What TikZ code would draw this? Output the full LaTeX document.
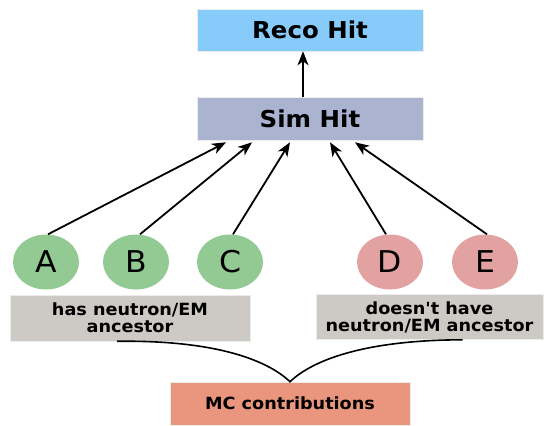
\documentclass[tikz,border=0pt]{standalone}
\usepackage{fontspec}
\setmainfont{DejaVu Sans}[FakeStretch=1.05, Ligatures=TeXOff]
\usetikzlibrary{shapes.geometric,arrows.meta}
\definecolor{recoblue}{HTML}{87CBFA}
\definecolor{simblue}{HTML}{AAB4D0}
\definecolor{hitgreen}{HTML}{93C993}
\definecolor{hitpink}{HTML}{E2A2A2}
\definecolor{labelgray}{HTML}{CDC9C5}
\definecolor{mcsalmon}{HTML}{EA957D}
\tikzset{
  hitbox/.style={rectangle, draw=white!85!gray, line width=0.6pt, minimum width=226pt, minimum height=42pt, inner sep=0pt, font=\bfseries\fontsize{23.3}{26}\selectfont},
  contrib/.style={ellipse, minimum width=66pt, minimum height=55pt, inner sep=0pt, font=\fontsize{30}{32}\selectfont},
  grouplabel/.style={rectangle, fill=labelgray, draw=white!85!gray, line width=0.6pt, inner sep=0pt, align=center, font=\bfseries\fontsize{16.8}{17}\selectfont},
  feed/.style={line width=1.8pt, -{Stealth[length=14pt,width=11pt,inset=4pt]}},
  joinline/.style={line width=1.6pt}
}
\begin{document}
\begin{tikzpicture}[x=1pt,y=-1pt]
\useasboundingbox (0,0) rectangle (544,426);
\node[hitbox, fill=recoblue] (reco) at (310,30) {Reco Hit};
\node[hitbox, fill=simblue, minimum height=43pt] (sim) at (310,118.5) {Sim Hit};
\node[contrib, fill=hitgreen] (A) at (46,262) {A};
\node[contrib, fill=hitgreen] (B) at (136,262) {B};
\node[contrib, fill=hitgreen] (C) at (230,262) {C};
\node[contrib, fill=hitpink] (D) at (390,262) {D};
\node[contrib, fill=hitpink] (E) at (485,262) {E};
\node[grouplabel, minimum width=240pt, minimum height=46pt] (gl) at (130,318) {has neutron/EM\\ancestor};
\node[grouplabel, minimum width=227pt, minimum height=45pt] (gr) at (429.5,317) {doesn't have\\neutron/EM ancestor};
\node[hitbox, fill=mcsalmon, minimum width=240pt, minimum height=43pt, font=\bfseries\fontsize{16.8}{18}\selectfont] (mc) at (290,403.5) {MC contributions};
% arrow targets on Sim Hit
\coordinate (tA) at ([xshift=-84pt,yshift=-2pt]sim.south);
\coordinate (tB) at ([xshift=-58pt,yshift=-2pt]sim.south);
\coordinate (tC) at ([xshift=-20pt,yshift=-2pt]sim.south);
\coordinate (tD) at ([xshift=20pt,yshift=-2pt]sim.south);
\coordinate (tE) at ([xshift=45pt,yshift=-2pt]sim.south);
\coordinate (sUp) at ([xshift=-7pt]sim.north);
\coordinate (rDown) at ([xshift=-7pt]reco.south);
\draw[feed] ([xshift=2pt]A.north) -- (tA);
\draw[feed] ([xshift=4pt]B.north) -- (tB);
\draw[feed] ([xshift=3pt]C.north) -- (tC);
\draw[feed] ([xshift=-4pt]D.north) -- (tD);
\draw[feed] ([xshift=2pt]E.north) -- (tE);
\draw[feed] (sUp) -- (rDown);
% joining curves
\coordinate (lstart) at ([xshift=-13pt]gl.south);
\coordinate (rstart) at ([xshift=33pt]gr.south);
\draw[joinline] (lstart) .. controls (210,340) and (265,358) .. (mc.north)
                .. controls (315,358) and (370,340) .. (rstart);
\end{tikzpicture}
\end{document}
